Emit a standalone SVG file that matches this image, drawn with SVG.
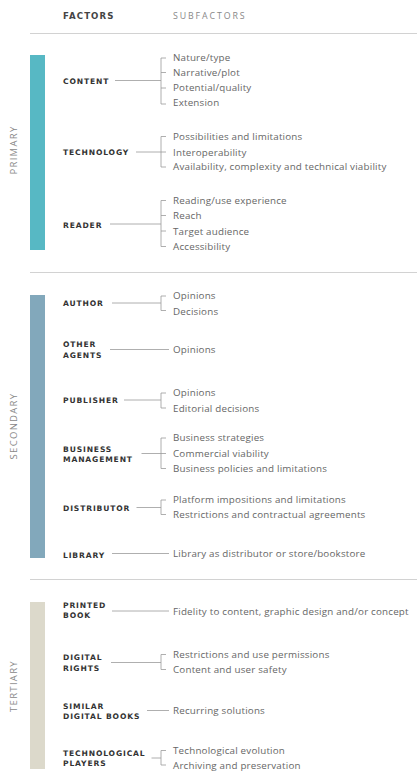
<svg xmlns="http://www.w3.org/2000/svg" width="417" height="773" viewBox="0 0 417 773">
<style>
.f{font-family:"DejaVu Sans",sans-serif;font-weight:bold;font-size:7.6px;letter-spacing:0.85px;fill:#333}
.s{font-family:"Open Sans","Liberation Sans",sans-serif;font-size:9.8px;letter-spacing:0.2px;fill:#666}
.h1{font-family:"DejaVu Sans",sans-serif;font-weight:bold;font-size:8.6px;letter-spacing:1.1px;fill:#444}
.h2{font-family:"Open Sans",sans-serif;font-size:8.8px;letter-spacing:1.9px;fill:#888}
.side{font-family:"Open Sans",sans-serif;font-size:9.5px;letter-spacing:1.3px;fill:#888}
.rule{stroke:#d2d2d2;stroke-width:1}
.c{stroke:#9a9a9a;stroke-width:0.8;fill:none}
</style>
<rect width="417" height="773" fill="#fff"/>
<text class="h1" x="63" y="19">FACTORS</text>
<text class="h2" x="173" y="19">SUBFACTORS</text>
<line class="rule" x1="30" y1="33.5" x2="417" y2="33.5"/>
<line class="rule" x1="30" y1="272.5" x2="417" y2="272.5"/>
<line class="rule" x1="30" y1="579.5" x2="417" y2="579.5"/>
<rect x="30" y="55" width="15" height="195" fill="#57b8c4"/>
<rect x="30" y="295" width="15" height="263" fill="#82a8bb"/>
<rect x="30" y="602" width="15" height="167" fill="#dcd9cb"/>
<text class="side" transform="translate(16.5,150) rotate(-90)" text-anchor="middle">PRIMARY</text>
<text class="side" transform="translate(16.5,426) rotate(-90)" text-anchor="middle">SECONDARY</text>
<text class="side" transform="translate(16.5,686) rotate(-90)" text-anchor="middle">TERTIARY</text>
<g id="connectors">
<path class="c" d="M115 80.5H161M166 58H161V104H166M161 72.5H166M161 88H166"/>
<path class="c" d="M136 152H166M166 136.5H161V167H166"/>
<path class="c" d="M110 224H161M166 200.5H161V246.5H166M161 215.5H166M161 231H166"/>
<path class="c" d="M112 303H161M166 296H161V310.5H166"/>
<path class="c" d="M110 349.5H169"/>
<path class="c" d="M124 400H161M166 393H161V408H166"/>
<path class="c" d="M141.5 453.5H166M166 438H161V468.5H166"/>
<path class="c" d="M136.5 507.5H161M166 500H161V514.5H166"/>
<path class="c" d="M112 553.5H169"/>
<path class="c" d="M112 611H169"/>
<path class="c" d="M111 662.5H161M166 654.5H161V669.5H166"/>
<path class="c" d="M147 710.5H169"/>
<path class="c" d="M151.5 758H161M166 750.5H161V765H166"/>
</g>
<g id="content"><text class="f" x="63" y="83.5">CONTENT</text>
<text class="s" x="173" y="60.5">Nature/type</text><text class="s" x="173" y="75.8">Narrative/plot</text><text class="s" x="173" y="91.2">Potential/quality</text><text class="s" x="173" y="106.2">Extension</text></g>
<g id="technology"><text class="f" x="63" y="155">TECHNOLOGY</text>
<text class="s" x="173" y="139.5">Possibilities and limitations</text><text class="s" x="173" y="155.5">Interoperability</text><text class="s" x="173" y="170.2">Availability, complexity and technical viability</text></g>
<g id="reader"><text class="f" x="63" y="227.5">READER</text>
<text class="s" x="173" y="203.8">Reading/use experience</text><text class="s" x="173" y="219.2">Reach</text><text class="s" x="173" y="234.5">Target audience</text><text class="s" x="173" y="250.2">Accessibility</text></g>
<g id="author"><text class="f" x="63" y="306.3">AUTHOR</text>
<text class="s" x="173" y="298.8">Opinions</text><text class="s" x="173" y="314.5">Decisions</text></g>
<g id="other-agents"><text class="f" x="63" y="347.3">OTHER</text><text class="f" x="63" y="357.6">AGENTS</text>
<text class="s" x="173" y="353.2">Opinions</text></g>
<g id="publisher"><text class="f" x="63" y="403.3">PUBLISHER</text>
<text class="s" x="173" y="396.2">Opinions</text><text class="s" x="173" y="411.5">Editorial decisions</text></g>
<g id="business-management"><text class="f" x="63" y="451.6">BUSINESS</text><text class="f" x="63" y="461.6">MANAGEMENT</text>
<text class="s" x="173" y="441.2">Business strategies</text><text class="s" x="173" y="456.8">Commercial viability</text><text class="s" x="173" y="472.2">Business policies and limitations</text></g>
<g id="distributor"><text class="f" x="63" y="510.6">DISTRIBUTOR</text>
<text class="s" x="173" y="502.8">Platform impositions and limitations</text><text class="s" x="173" y="518.2">Restrictions and contractual agreements</text></g>
<g id="library"><text class="f" x="63" y="557.6">LIBRARY</text>
<text class="s" x="173" y="557.2">Library as distributor or store/bookstore</text></g>
<g id="printed-book"><text class="f" x="63" y="608">PRINTED</text><text class="f" x="63" y="618">BOOK</text>
<text class="s" x="173" y="614.5">Fidelity to content, graphic design and/or concept</text></g>
<g id="digital-rights"><text class="f" x="63" y="660.3">DIGITAL</text><text class="f" x="63" y="671">RIGHTS</text>
<text class="s" x="173" y="657.5">Restrictions and use permissions</text><text class="s" x="173" y="672.8">Content and user safety</text></g>
<g id="similar-digital-books"><text class="f" x="63" y="708.6">SIMILAR</text><text class="f" x="63" y="718.6">DIGITAL BOOKS</text>
<text class="s" x="173" y="713.8">Recurring solutions</text></g>
<g id="technological-players"><text class="f" x="63" y="755.6">TECHNOLOGICAL</text><text class="f" x="63" y="765.6">PLAYERS</text>
<text class="s" x="173" y="753.5">Technological evolution</text><text class="s" x="173" y="768.8">Archiving and preservation</text></g>
</svg>
